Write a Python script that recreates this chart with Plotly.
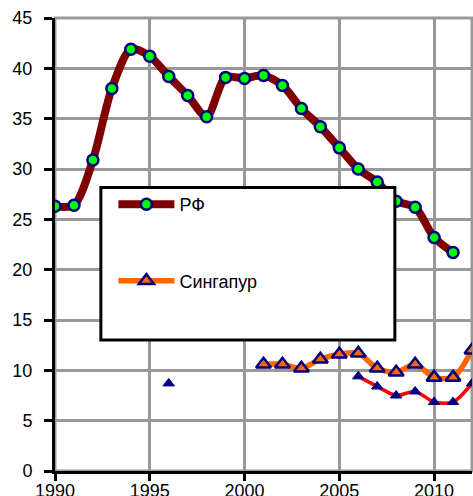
import plotly.graph_objects as go

years = list(range(1990, 2013))
rf = [26.3, 26.4, 30.9, 38.0, 41.9, 41.2, 39.2, 37.3, 35.2, 39.1, 39.0, 39.3,
      38.3, 36.0, 34.2, 32.1, 30.0, 28.7, 26.8, 26.2, 23.2, 21.7, None]
singapore = [None] * 11 + [10.6, 10.6, 10.2, 11.1, 11.6, 11.7, 10.2, 9.8, 10.6, 9.3, 9.3, 12.0]
third = [None] * 6 + [8.7] + [None] * 9 + [9.4, 8.4, 7.5, 7.9, 6.85, 6.85, 8.7]

NAVY = "#000080"

fig = go.Figure()
fig.add_trace(go.Scatter(
    x=years, y=third, mode="lines+markers", name="",
    line=dict(color="#FF0000", width=3.5, shape="spline", smoothing=0.8),
    marker=dict(symbol="triangle-up", size=10, color=NAVY, line=dict(color=NAVY, width=1)),
    connectgaps=False, showlegend=False))
fig.add_trace(go.Scatter(
    x=years, y=singapore, mode="lines+markers", name="Сингапур", legendgroup="b",
    line=dict(color="#FF6600", width=5.5, shape="spline", smoothing=0.8),
    marker=dict(symbol="triangle-up", size=13, color="#FF6600", line=dict(color=NAVY, width=2.5)),
    connectgaps=False, legendrank=2))
fig.add_trace(go.Scatter(
    x=years, y=rf, mode="lines+markers", name="РФ", legendgroup="a",
    line=dict(color="#800000", width=8, shape="spline", smoothing=0.8),
    marker=dict(symbol="circle", size=11, color="#00FF00", line=dict(color=NAVY, width=2.5)),
    legendrank=1))

# plot border (gray) and legend box
fig.add_shape(type="rect", xref="paper", yref="paper", x0=0, x1=1, y0=0, y1=1,
              line=dict(color="#999999", width=3), layer="below")
fig.add_shape(type="rect", xref="paper", yref="paper", x0=0.110, x1=0.815, y0=0.289, y1=0.626,
              line=dict(color="black", width=3), fillcolor="white", layer="above")

fig.update_layout(
    width=473, height=496,
    margin=dict(l=55, r=1, t=18, b=25),
    paper_bgcolor="white", plot_bgcolor="white",
    font=dict(family="Liberation Sans, Arial, sans-serif", size=18, color="black"),
    legend=dict(x=0.14, y=0.629, xanchor="left", yanchor="top",
                bgcolor="rgba(0,0,0,0)", borderwidth=0,
                font=dict(size=18), tracegroupgap=50, itemwidth=56,
                traceorder="grouped"),
    xaxis=dict(range=[1990, 2012], tick0=1990, dtick=5, showgrid=True,
               gridcolor="#999999", gridwidth=3, showline=True, linecolor="black",
               linewidth=3, ticks="outside", ticklen=7, tickwidth=2.5, tickcolor="black",
               ticklabelstandoff=-6, tickfont=dict(size=18),
               zeroline=False, fixedrange=True, automargin=False),
    yaxis=dict(range=[0, 45], tick0=0, dtick=5, showgrid=True,
               gridcolor="#999999", gridwidth=3, showline=True, linecolor="black",
               linewidth=3, ticks="outside", ticklen=8, tickwidth=2.5, tickcolor="black",
               ticklabelstandoff=8, tickfont=dict(size=18),
               zeroline=False, fixedrange=True, automargin=False),
)

fig.write_html("out.html", config={"displayModeBar": False},
               post_script="document.body.style.margin='0px';")
